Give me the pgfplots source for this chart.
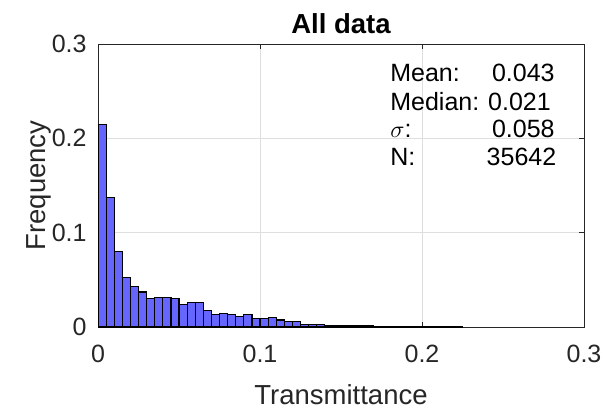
\documentclass[border=0pt]{standalone}
\usepackage{pgfplots}
\pgfplotsset{compat=1.18}
\usepackage{pgfplotstable}
\usepackage{fontspec}
\setmainfont{Liberation Sans}

\definecolor{barfill}{rgb}{0.4,0.4,1}
\definecolor{axgray}{rgb}{0.15,0.15,0.15}
\definecolor{gridgray}{rgb}{0.87,0.87,0.87}

% Histogram of transmittance, bin width 0.005 (last row closes the final bin)
\pgfplotstableread{
x      y
0.000  0.2150
0.005  0.1375
0.010  0.0800
0.015  0.0527
0.020  0.0428
0.025  0.0372
0.030  0.0305
0.035  0.0317
0.040  0.0317
0.045  0.0303
0.050  0.0238
0.055  0.0262
0.060  0.0262
0.065  0.0171
0.070  0.0129
0.075  0.0145
0.080  0.0130
0.085  0.0115
0.090  0.0132
0.095  0.0088
0.100  0.0088
0.105  0.0102
0.110  0.0075
0.115  0.0055
0.120  0.0056
0.125  0.0029
0.130  0.0029
0.135  0.0028
0.140  0.0015
0.145  0.0015
0.150  0.0015
0.155  0.0015
0.160  0.0015
0.165  0.0015
0.170  0.0005
0.175  0.0004
0.180  0.0004
0.185  0.0003
0.190  0.0003
0.195  0.0003
0.200  0.0005
0.205  0.0005
0.210  0.0002
0.215  0.0006
0.220  0.0006
0.225  0.0006
}\histdata

\begin{document}
\begin{tikzpicture}
\begin{axis}[
  name=main,
  scale only axis,
  width=243pt, height=141.5pt,
  xmin=0, xmax=0.3, ymin=0, ymax=0.3,
  xtick={0,0.1,0.2,0.3}, ytick={0,0.1,0.2,0.3},
  xticklabels={0,0.1,0.2,0.3}, yticklabels={0,0.1,0.2,0.3},
  tick align=inside,
  major tick length=2.5pt,
  grid=major,
  grid style={gridgray, line width=0.5pt},
  axis line style={axgray, line width=0.5pt},
  tick style={axgray, line width=0.5pt},
  xticklabel style={font=\fontsize{12.5}{15}\selectfont, text=axgray, inner sep=0pt, yshift=-9pt},
  yticklabel style={font=\fontsize{12.5}{15}\selectfont, text=axgray, inner sep=0pt, xshift=-5.5pt},
  title={All data},
  every axis title shift=0pt,
  title style={font=\bfseries\fontsize{13.75}{16}\selectfont, at={(axis description cs:0.5,1)}, anchor=base, inner sep=0pt, yshift=5.5pt},
  xlabel={Transmittance},
  ylabel={Frequency},
  xlabel style={font=\fontsize{13.75}{16}\selectfont, text=axgray, at={(axis description cs:0.5,0)}, anchor=base, inner sep=0pt, yshift=-38.5pt},
  ylabel style={font=\fontsize{13.75}{16}\selectfont, text=axgray, at={(axis description cs:-0.109,0.5)}, anchor=base, inner sep=0pt},
  clip=true,
]
\addplot[ybar interval, fill=barfill, draw=black, line width=0.6pt] table[x=x, y=y] {\histdata};

% Summary statistics
\node[anchor=base west, font=\fontsize{12.5}{15}\selectfont, inner sep=0pt] at (axis cs:0.1802,0.2600) {Mean:};
\node[anchor=base west, font=\fontsize{12.5}{15}\selectfont, inner sep=0pt] at (axis cs:0.1802,0.2300) {Median:};
\node[anchor=base west, font=\fontsize{12.5}{15}\selectfont, inner sep=0pt] at (axis cs:0.1802,0.2010) {$\sigma$:};
\node[anchor=base west, font=\fontsize{12.5}{15}\selectfont, inner sep=0pt] at (axis cs:0.1802,0.1710) {N:};
\node[anchor=base east, font=\fontsize{12.5}{15}\selectfont, inner sep=0pt] at (axis cs:0.2821,0.2600) {0.043};
\node[anchor=base east, font=\fontsize{12.5}{15}\selectfont, inner sep=0pt] at (axis cs:0.2797,0.2300) {0.021};
\node[anchor=base east, font=\fontsize{12.5}{15}\selectfont, inner sep=0pt] at (axis cs:0.2821,0.2010) {0.058};
\node[anchor=base east, font=\fontsize{12.5}{15}\selectfont, inner sep=0pt] at (axis cs:0.2831,0.1710) {35642};
\end{axis}
% Page frame around axis, titles and labels
\path[use as bounding box] ([xshift=-49pt,yshift=-40.5pt]main.south west) rectangle ([xshift=9.5pt,yshift=22pt]main.north east);
\end{tikzpicture}
\end{document}
